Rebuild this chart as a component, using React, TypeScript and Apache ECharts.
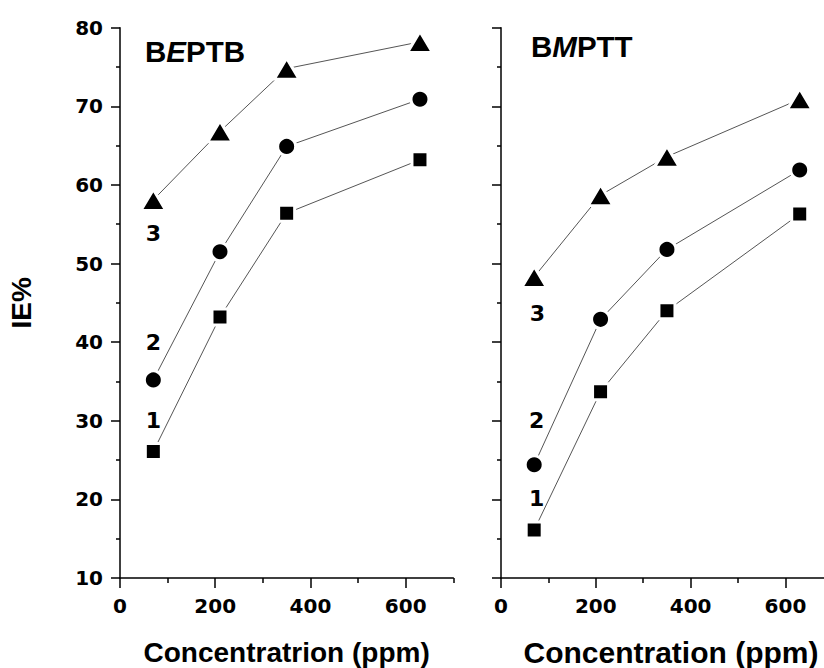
import { useEffect, useRef } from "react";
import * as echarts from "echarts";

// Concentration (ppm)
const conc = [70, 210, 350, 630];
// BEPTB curves (IE%)
const beptb1 = [26.1, 43.2, 56.4, 63.2];
const beptb2 = [35.2, 51.5, 64.9, 70.9];
const beptb3 = [58.1, 66.8, 74.8, 78.2];
// BMPTT curves (IE%)
const bmptt1 = [16.1, 33.7, 44.0, 56.3];
const bmptt2 = [24.4, 42.9, 51.8, 61.9];
const bmptt3 = [48.3, 58.7, 63.6, 70.9];
// Curve number labels
const curveNames = ["1", "2", "3"];
const beptbLabelX = [70, 70, 70];
const beptbLabelY = [30.0, 40.0, 53.8];
const bmpttLabelX = [75, 75, 77];
const bmpttLabelY = [20.1, 30.0, 43.7];
// Ticks
const xMajorTicks = [0, 200, 400, 600];
const xMinorTicks = [100, 300, 500, 700];

const NUM_FONT = "DejaVu Sans";
const TXT_FONT = "Liberation Sans";

export default function App() {
  const ref = useRef<HTMLDivElement>(null);
  useEffect(() => {
    if (!ref.current) return;
    const chart = echarts.init(ref.current, undefined, { renderer: "svg" });

    const axisLine = { show: true, onZero: false, lineStyle: { color: "#000", width: 1.5 } };
    const mainX = (gridIndex: number, name: string, nameSize: number, nameGap: number, shift: number) => ({
      type: "value",
      gridIndex,
      min: 0,
      max: 700,
      interval: 100,
      position: "bottom",
      axisLine,
      splitLine: { show: false },
      axisTick: { show: true, length: 10, customValues: xMajorTicks, lineStyle: { color: "#000", width: 1.5 } },
      axisLabel: {
        customValues: xMajorTicks,
        margin: 18,
        color: "#000",
        fontFamily: NUM_FONT,
        fontWeight: "bold",
        fontSize: 20,
      },
      name,
      nameLocation: "middle",
      nameGap,
      nameTextStyle: {
        fontFamily: TXT_FONT,
        fontWeight: "bold",
        fontSize: nameSize,
        color: "#000",
        padding: [0, 0, 0, shift],
      },
    });
    const minorX = (gridIndex: number) => ({
      type: "value",
      gridIndex,
      min: 0,
      max: 700,
      interval: 100,
      position: "bottom",
      axisLine: { show: false, onZero: false },
      splitLine: { show: false },
      axisTick: { show: true, length: 5, customValues: xMinorTicks, lineStyle: { color: "#000", width: 1.5 } },
      axisLabel: { show: false },
    });
    const yAx = (gridIndex: number, labels: boolean) => ({
      type: "value",
      gridIndex,
      min: 10,
      max: 80,
      interval: 10,
      axisLine,
      splitLine: { show: false },
      axisTick: { show: true, length: 9, lineStyle: { color: "#000", width: 1.5 } },
      minorTick: { show: true, splitNumber: 2, length: 4, lineStyle: { color: "#000", width: 1.5 } },
      minorSplitLine: { show: false },
      axisLabel: labels
        ? { show: true, margin: 17, color: "#000", fontFamily: NUM_FONT, fontWeight: "bold", fontSize: 20 }
        : { show: false },
      ...(labels
        ? {
            name: "IE%",
            nameLocation: "middle",
            nameRotate: 90,
            nameGap: 85,
            nameTextStyle: { fontFamily: TXT_FONT, fontWeight: "bold", fontSize: 28, color: "#000" },
          }
        : {}),
    });

    const lineSeries = (xi: number, yi: number, ys: number[], symbol: string, size: any) => ({
      type: "line",
      xAxisIndex: xi,
      yAxisIndex: yi,
      data: conc.map((x, i) => [x, ys[i]]),
      symbol,
      symbolSize: size,
      showAllSymbol: true,
      lineStyle: { color: "#555", width: 1 },
      itemStyle: { color: "#000", borderColor: "#fff", borderWidth: 3, opacity: 1 },
      z: 3,
      silent: true,
    });
    const labelSeries = (xi: number, yi: number, xs: number[], ys: number[]) => ({
      type: "scatter",
      xAxisIndex: xi,
      yAxisIndex: yi,
      data: curveNames.map((n, i) => [xs[i], ys[i], n]),
      symbolSize: 0,
      silent: true,
      itemStyle: { color: "#000", opacity: 1 },
      label: {
        show: true,
        position: [0, 0],
        align: "center",
        verticalAlign: "middle",
        formatter: (p: any) => p.value[2],
        color: "#000",
        opacity: 1,
        textBorderWidth: 0,
        fontFamily: NUM_FONT,
        fontWeight: "bold",
        fontSize: 22,
      },
      z: 5,
    });

    const rich = {
      n: { fontFamily: TXT_FONT, fontWeight: "bold", fontSize: 29.5, color: "#000", lineHeight: 30 },
      i: { fontFamily: TXT_FONT, fontWeight: "bold", fontStyle: "italic", fontSize: 29.5, color: "#000", lineHeight: 30 },
    };

    chart.setOption({
      animation: false,
      backgroundColor: "#fff",
      title: [
        { text: "{n|B}{i|E}{n|PTB}", left: 145, top: 36, padding: 0, textStyle: { rich } },
        { text: "{n|B}{i|M}{n|PTT}", left: 531, top: 31, padding: 0, textStyle: { rich } },
      ],
      grid: [
        { left: 120, top: 27.7, width: 333.3, height: 550.3, containLabel: false, outerBoundsMode: "none" },
        { left: 501, top: 27.7, width: 331.9, height: 550.3, containLabel: false, outerBoundsMode: "none" },
      ],
      xAxis: [
        mainX(0, "Concentratrion (ppm)", 28, 60, 0),
        minorX(0),
        mainX(1, "Concentration (ppm)", 30, 59, 8),
        minorX(1),
      ],
      yAxis: [yAx(0, true), yAx(1, false)],
      series: [
        lineSeries(0, 0, beptb1, "rect", 16),
        lineSeries(0, 0, beptb2, "circle", 18),
        lineSeries(0, 0, beptb3, "triangle", [25, 21]),
        lineSeries(2, 1, bmptt1, "rect", 16),
        lineSeries(2, 1, bmptt2, "circle", 18),
        lineSeries(2, 1, bmptt3, "triangle", [25, 21]),
        labelSeries(0, 0, beptbLabelX, beptbLabelY),
        labelSeries(2, 1, bmpttLabelX, bmpttLabelY),
      ],
    });
    return () => chart.dispose();
  }, []);
  return <div ref={ref} style={{ position: "absolute", left: 0, top: 0, width: 824, height: 668 }} />;
}
